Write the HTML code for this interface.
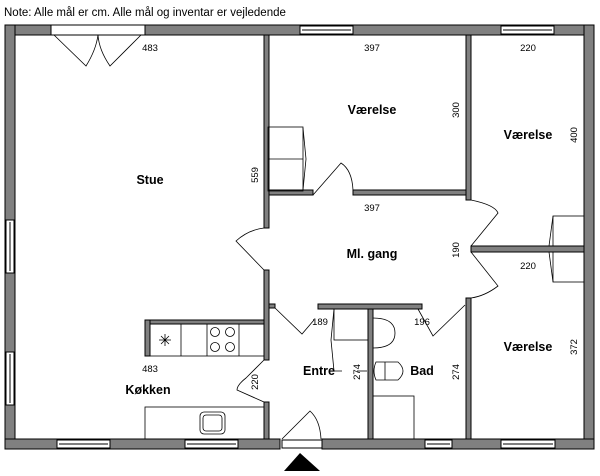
<!DOCTYPE html>
<html><head><meta charset="utf-8"><style>
html,body{margin:0;padding:0;background:#fff;width:600px;height:476px;overflow:hidden}
svg{display:block}
text{font-family:"Liberation Sans",sans-serif;fill:#000}
.b{font-weight:bold;font-size:12.5px}
.d{font-size:9.5px}
</style></head><body>
<svg width="600" height="476" viewBox="0 0 600 476">
<text x="4" y="16" style="font-size:11.5px">Note: Alle mål er cm. Alle mål og inventar er vejledende</text>
<g fill="#808080" stroke="#000" stroke-width="1">
<rect x="5" y="25" width="589" height="10"/>
<rect x="5" y="25" width="10" height="424"/>
<rect x="584" y="25" width="10" height="424"/>
<rect x="5" y="439" width="275" height="10"/>
<rect x="322" y="439" width="272" height="10"/>
<rect x="264" y="35" width="5" height="193"/>
<rect x="264" y="270" width="5" height="90"/>
<rect x="264" y="402" width="5" height="37"/>
<rect x="466" y="35" width="5" height="165"/>
<rect x="466" y="298" width="5" height="141"/>
<rect x="269" y="190" width="44" height="5"/>
<rect x="353" y="190" width="113" height="5"/>
<rect x="471" y="246" width="113" height="6"/>
<rect x="318" y="304" width="104" height="5"/>
<rect x="368" y="309" width="5" height="130"/>
<rect x="145" y="320" width="119" height="4"/>
<rect x="145" y="320" width="5" height="36"/>
<rect x="269" y="304" width="6" height="4"/>
</g>
<g fill="#fff" stroke="#000" stroke-width="1">
<rect x="51" y="25" width="94" height="10"/>
<rect x="300" y="26" width="53" height="8"/><line x1="302" y1="30" x2="351" y2="30"/>
<rect x="501" y="26" width="53" height="8"/><line x1="503" y1="30" x2="552" y2="30"/>
<rect x="6" y="220" width="8" height="53"/><line x1="10" y1="222" x2="10" y2="271"/>
<rect x="6" y="352" width="8" height="53"/><line x1="10" y1="354" x2="10" y2="403"/>
<rect x="57" y="440" width="53" height="8"/><line x1="59" y1="444" x2="108" y2="444"/>
<rect x="185" y="440" width="53" height="8"/><line x1="187" y1="444" x2="236" y2="444"/>
<rect x="425" y="440" width="27" height="8"/><line x1="427" y1="444" x2="450" y2="444"/>
<rect x="501" y="440" width="54" height="8"/><line x1="503" y1="444" x2="553" y2="444"/>
<rect x="282" y="440" width="40" height="8"/>
</g>
<g fill="none" stroke="#000" stroke-width="0.8">
<path d="M54 35 L86 66 Q96 50 98 35 M141 35 L110 66 Q99 50 98 35"/>
<path d="M264 270 L236 241 Q248 230 264 228"/>
<path d="M313 195 L341 163 Q352 170 353 190"/>
<path d="M471 200 Q495 205 498 213 L471 246"/>
<path d="M471 252 L498 286 Q485 296 471 298"/>
<path d="M275 308 L302 334 L314 320 M418 309 L433 336 L465 305"/>
<path d="M264 360 L246 378 Q237 385 237 390 Q255 398 264 402"/>
<path d="M282 439 L310 411 Q320 420 321 439"/>
</g>
<g fill="none" stroke="#000" stroke-width="0.8">
<rect x="268" y="127" width="35" height="64"/><line x1="268" y1="159" x2="303" y2="159"/>
<path d="M303 128 L306 159 L303 190"/>
<rect x="553" y="216" width="31" height="30"/><path d="M553 216 L549 246"/>
<rect x="553" y="252" width="31" height="30"/><path d="M553 282 L549 252"/>
<rect x="150" y="324" width="114" height="32"/>
<line x1="181" y1="324" x2="181" y2="356"/><line x1="207" y1="324" x2="207" y2="356"/><line x1="239" y1="324" x2="239" y2="356"/>
<circle cx="215" cy="332" r="4.5"/><circle cx="230" cy="332" r="4.5"/><circle cx="215" cy="347" r="4.5"/><circle cx="230" cy="347" r="4.5"/>
<path d="M159 340 h12 M165 334 v12 M161 336 l8 8 M169 336 l-8 8"/>
<rect x="145" y="407" width="119" height="32"/>
<rect x="200" y="412" width="25" height="22" rx="4"/><rect x="203" y="415" width="19" height="16" rx="3"/>
<rect x="334" y="309" width="34" height="31"/>
<path d="M334 309 L331 340 L334 371 L342 371"/>
<path d="M373 318 Q395 318 395 333 Q395 348 373 348"/>
<path d="M376 362 L398 362 Q408 371 398 380 L376 380 Q372 371 376 362 Z"/><line x1="385" y1="362" x2="385" y2="380"/>
<rect x="373" y="396" width="41" height="43"/>
<line x1="357" y1="371" x2="367" y2="371"/>
</g>
<polygon points="300,453 284,471 320,471" fill="#000"/>
<text class="b" x="150" y="184" text-anchor="middle">Stue</text>
<text class="b" x="372" y="114" text-anchor="middle">Værelse</text>
<text class="b" x="528" y="139" text-anchor="middle">Værelse</text>
<text class="b" x="372" y="258" text-anchor="middle">Ml. gang</text>
<text class="b" x="528" y="351" text-anchor="middle">Værelse</text>
<text class="b" x="319" y="375" text-anchor="middle">Entre</text>
<text class="b" x="422" y="375" text-anchor="middle">Bad</text>
<text class="b" x="148" y="394" text-anchor="middle">Køkken</text>
<g text-anchor="middle">
<text x="150" y="51" class="d">483</text>
<text x="372" y="51" class="d">397</text>
<text x="528" y="51" class="d">220</text>
<text x="372" y="211" class="d">397</text>
<text x="528" y="269" class="d">220</text>
<text x="150" y="372" class="d">483</text>
<text x="320" y="325" class="d">189</text>
<text x="422" y="325" class="d">196</text>
<text class="d" transform="translate(258,175) rotate(-90)">559</text>
<text class="d" transform="translate(459,110) rotate(-90)">300</text>
<text class="d" transform="translate(577,135) rotate(-90)">400</text>
<text class="d" transform="translate(459,250) rotate(-90)">190</text>
<text class="d" transform="translate(258,382) rotate(-90)">220</text>
<text class="d" transform="translate(360,372) rotate(-90)">274</text>
<text class="d" transform="translate(459,372) rotate(-90)">274</text>
<text class="d" transform="translate(577,347) rotate(-90)">372</text>
</g>
</svg>
</body></html>
